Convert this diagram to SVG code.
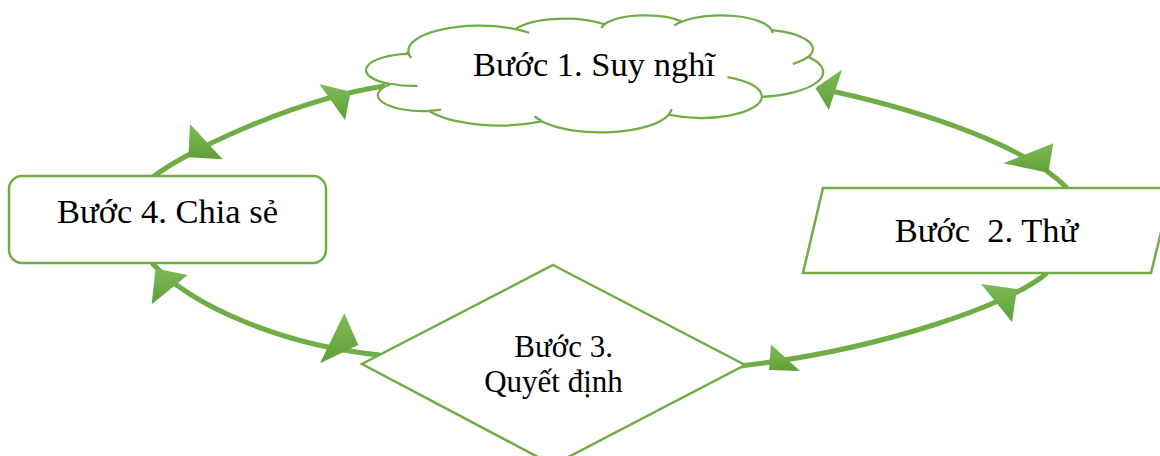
<svg xmlns="http://www.w3.org/2000/svg" width="1160" height="456" viewBox="0 0 1160 456">
  <defs>
    <linearGradient id="headFill" x1="0" y1="0" x2="0" y2="1">
      <stop offset="0" stop-color="#7dbb58"/>
      <stop offset="1" stop-color="#5f9f37"/>
    </linearGradient>
    <style>
      .link { fill: none; stroke: #70ad47; stroke-width: 5; stroke-linecap: butt; }
      .head { fill: url(#headFill); stroke: none; }
      .shape { fill: #ffffff; stroke: #70ad47; stroke-width: 2.5; stroke-linejoin: miter; }
      .cloud { fill: #ffffff; stroke: #70ad47; stroke-width: 2.25; }
      .curl { fill: none; stroke: #70ad47; stroke-width: 2.25; }
      .label { font-family: "Liberation Serif", "Times New Roman", serif; font-size: 34.5px; fill: #000000; text-anchor: middle; white-space: pre; }
      .small { font-size: 31px; }
    </style>
  </defs>

  <rect width="1160" height="456" fill="#ffffff"/>

  <!-- curved two-way links between the four steps -->
  <g id="connectors">
    <path class="link" d="M153,177 C180,155 290,100 385,86"/>
    <path class="link" d="M817,88 C900,105 1020,140 1067,188"/>
    <path class="link" d="M1047,273 C1010,305 880,350 740,366"/>
    <path class="link" d="M152,263 C190,305 280,345 380,355"/>

    <polygon class="head" points="190,124 188.3,157.3 222.7,159.3"/>
    <polygon class="head" points="319.3,84 350.7,91.7 345,120"/>
    <polygon class="head" points="842.2,69.6 815.5,88 828.8,110"/>
    <polygon class="head" points="1053.3,143.3 1048.3,172.7 1003.3,163.3"/>
    <polygon class="head" points="981,284 1017,289 1012,322"/>
    <polygon class="head" points="771,344.5 769,370 800,371"/>
    <polygon class="head" points="344.3,313.3 358.3,345 320,363.3"/>
    <polygon class="head" points="187.8,275 155.5,268.5 151.7,304.3"/>
  </g>

  <!-- Step 1: cloud (preset cloud geometry on a 43200 grid) -->
  <g id="step1">
    <g transform="translate(368 15) scale(0.0105324 0.00270833)">
      <path class="cloud" vector-effect="non-scaling-stroke"
        d="M3900,14370 A6753,9190 0 0 1 14002,5200 A5333,7267 0 0 1 22453,3430 A4365,5945 0 0 1 29828,2475 A4857,6595 0 0 1 38313,5570 A5333,7273 0 0 1 41813,15454 A6775,9220 0 0 1 37402,30202 A5785,7867 0 0 1 28554,36813 A6752,9215 0 0 1 16480,39267 A7720,10543 0 0 1 5804,35470 A4360,5918 0 0 1 2113,25548 A4345,5945 0 0 1 3900,14370 Z"/>
      <path class="curl" vector-effect="non-scaling-stroke"
        d="M4693,26177 A4345,5945 0 0 1 2160,25380 M6928,34899 A4360,5918 0 0 1 5819,35281 M16478,39090 A6752,9215 0 0 1 15809,37347 M28827,34751 A6752,9215 0 0 1 28560,36661 M34129,22954 A5785,7867 0 0 1 37381,30090 M41798,15354 A5333,7273 0 0 1 40349,18031 M38324,5426 A4857,6595 0 0 1 38400,6690 M29078,3952 A4857,6595 0 0 1 29820,2340 M22141,4720 A4365,5945 0 0 1 22500,3330 M14000,5192 A6753,9190 0 0 1 15303,6543 M4127,15789 A6753,9190 0 0 1 3673,13628"/>
    </g>
    <text class="label" x="594" y="76">Bước 1. Suy nghĩ</text>
  </g>

  <!-- Step 2: parallelogram -->
  <g id="step2">
    <polygon class="shape" points="823,188 1172,188 1151,273 803,273"/>
    <text class="label" x="986.5" y="242">Bước  2. Thử</text>
  </g>

  <!-- Step 3: decision diamond -->
  <g id="step3">
    <polygon class="shape" points="553,265 745,365 553,465 362,364"/>
    <text class="label small" x="567.5" y="357">Bước 3. </text>
    <text class="label small" x="553.5" y="392">Quyết định</text>
  </g>

  <!-- Step 4: rounded box -->
  <g id="step4">
    <rect class="shape" x="9" y="176" width="317" height="87" rx="13" ry="13"/>
    <text class="label" x="167.5" y="223">Bước 4. Chia sẻ</text>
  </g>
</svg>
